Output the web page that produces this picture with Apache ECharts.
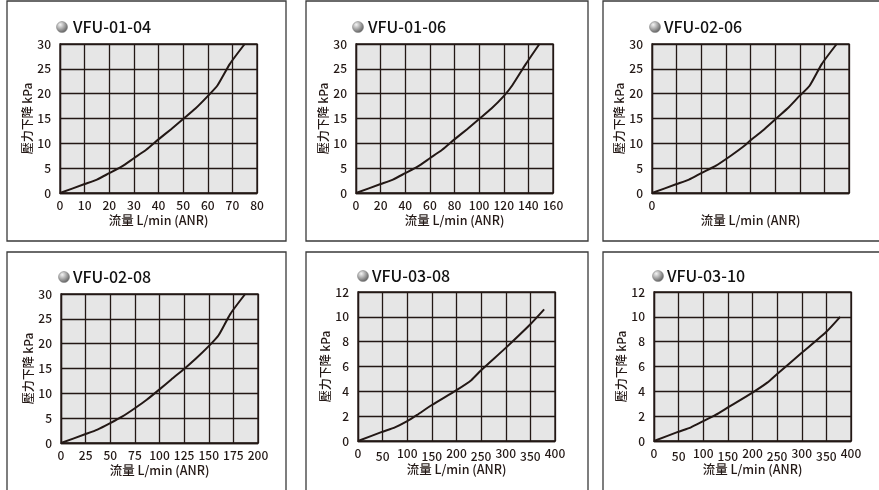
<!DOCTYPE html>
<html>
<head>
    <meta charset="utf-8">
    <script src="https://cdn.jsdelivr.net/npm/echarts@6/dist/echarts.min.js"></script>
    <style>
        body { margin: 0; background: #fff; }
    </style>
</head>
<body>
    <div id="main" style="width: 879px;height:490px;"></div>
    <script type="text/javascript">
        // 型號
        var models = ['VFU-01-04', 'VFU-01-06', 'VFU-02-06', 'VFU-02-08', 'VFU-03-08', 'VFU-03-10'];

        // 流量 L/min (ANR)
        var flow0104 = [0, 10, 15, 20, 25, 30, 35, 40, 45, 50, 55, 60, 64, 69, 75];
        var flow0106 = [0, 20, 30, 40, 50, 60, 70, 80, 90, 100, 110, 120, 127, 138, 149];
        var flow0206 = [0, 10, 15, 20, 26, 32, 37, 40, 45, 50, 55, 60, 64, 69, 75];
        var flow0208 = [0, 25, 37, 50, 62, 75, 87, 100, 112, 125, 137, 150, 160, 172, 187];
        var flow0308 = [0, 50, 75, 100, 120, 150, 200, 230, 250, 300, 350, 378];
        var flow0310 = [0, 50, 75, 100, 125, 150, 200, 230, 250, 300, 350, 378];

        // 壓力下降 kPa
        var drop0104 = [0, 1.8, 2.7, 4, 5.3, 7, 8.7, 10.8, 12.8, 14.9, 17, 19.5, 21.7, 26, 30];
        var drop0106 = [0, 1.8, 2.7, 4, 5.3, 7, 8.7, 10.8, 12.8, 14.9, 17, 19.5, 21.7, 26, 30];
        var drop0206 = [0, 1.8, 2.7, 4, 5.5, 7.5, 9.3, 10.6, 12.6, 14.8, 17, 19.6, 21.6, 26, 30];
        var drop0208 = [0, 1.8, 2.7, 4, 5.3, 7, 8.7, 10.8, 12.8, 14.9, 17, 19.5, 21.7, 26, 30];
        var drop0308 = [0, 0.75, 1.1, 1.6, 2.1, 2.9, 4.1, 4.9, 5.7, 7.5, 9.4, 10.6];
        var drop0310 = [0, 0.75, 1.1, 1.6, 2.1, 2.7, 3.9, 4.7, 5.4, 7.1, 8.8, 10];

        // 軸範圍
        var xMax = [80, 160, 80, 200, 400, 400];
        var xStep = [10, 20, 10, 25, 50, 50];
        var yMax = [30, 30, 30, 30, 12, 12];
        var yStep = [5, 5, 5, 5, 2, 2];

        var flows = [flow0104, flow0106, flow0206, flow0208, flow0308, flow0310];
        var drops = [drop0104, drop0106, drop0206, drop0208, drop0308, drop0310];

        // 版面
        var gridPos = [
            { left: 60, top: 44 }, { left: 356, top: 44 }, { left: 652, top: 44 },
            { left: 61, top: 294 }, { left: 358, top: 292 }, { left: 654, top: 292 }
        ];
        var framePos = [
            [7, 1, 279, 240], [306, 1, 282, 240], [603, 1, 290, 240],
            [7, 252, 279, 250], [306, 252, 282, 250], [603, 252, 290, 250]
        ];
        var titlePos = [
            [62, 73, 27], [358, 368, 27], [655, 664, 27],
            [64, 73, 277], [363, 372, 276], [658, 667, 276]
        ];

        var font = '"Noto Sans CJK TC", "Noto Sans", sans-serif';
        var ink = '#231815';

        var chart = echarts.init(document.getElementById('main'));

        var grids = [], xAxes = [], yAxes = [], series = [], graphics = [];

        for (var i = 0; i < 6; i++) {
            grids.push({
                left: gridPos[i].left, top: gridPos[i].top, width: 197, height: 149,
                show: true, backgroundColor: '#e6e6e6', borderColor: ink, borderWidth: 1.3
            });
            var hideX = (i === 2);
            var stagger = (i >= 4);
            xAxes.push({
                gridIndex: i, type: 'value', min: 0, max: xMax[i], interval: xStep[i],
                name: '流量 L/min (ANR)', nameLocation: 'middle', nameGap: 21,
                nameTextStyle: { fontFamily: font, fontSize: 12.5, fontWeight: 500, color: ink },
                axisLine: { lineStyle: { color: ink, width: 1.3 } },
                axisTick: { show: false },
                splitLine: { lineStyle: { color: ink, width: 1.3 } },
                axisLabel: {
                    margin: 6, fontFamily: font, fontSize: 12, fontWeight: 500, color: ink,
                    showMaxLabel: true,
                    formatter: (function (hx, st) {
                        return function (v) {
                            if (hx && v !== 0) return '';
                            if (st && v % 100 !== 0) return '{lo|' + v + '}';
                            return '{hi|' + v + '}';
                        };
                    })(hideX, stagger),
                    rich: {
                        hi: { fontFamily: font, fontSize: 12, fontWeight: 500, color: ink, padding: [0, 0, 3, 0] },
                        lo: { fontFamily: font, fontSize: 12, fontWeight: 500, color: ink, padding: [3, 0, 0, 0] }
                    }
                }
            });
            yAxes.push({
                gridIndex: i, type: 'value', min: 0, max: yMax[i], interval: yStep[i],
                name: '壓力下降 kPa', nameLocation: 'middle', nameGap: 24, nameRotate: 90,
                nameTextStyle: { fontFamily: font, fontSize: 12, fontWeight: 500, color: ink },
                axisLine: { show: true, lineStyle: { color: ink, width: 1.3 } },
                axisTick: { show: false },
                splitLine: { lineStyle: { color: ink, width: 1.3 } },
                axisLabel: { margin: 9, fontFamily: font, fontSize: 12, fontWeight: 500, color: ink }
            });
            var pts = [];
            for (var k = 0; k < flows[i].length; k++) {
                pts.push([flows[i][k], drops[i][k]]);
            }
            series.push({
                type: 'line', xAxisIndex: i, yAxisIndex: i, data: pts,
                showSymbol: false, smooth: 0.2,
                lineStyle: { color: ink, width: 2 }
            });

            var f = framePos[i];
            graphics.push({
                type: 'rect', shape: { x: f[0], y: f[1], width: f[2], height: f[3] },
                style: { fill: null, stroke: '#3a3a3a', lineWidth: 1.3 }, z: 0
            });
            var t = titlePos[i];
            graphics.push({
                type: 'circle', shape: { cx: t[0], cy: t[2], r: 5.5 },
                style: {
                    fill: new echarts.graphic.RadialGradient(0.35, 0.3, 0.75, [
                        { offset: 0, color: '#f4f4f4' },
                        { offset: 1, color: '#5a5a5a' }
                    ]),
                    stroke: '#7a7a7a', lineWidth: 0.5
                }
            });
            graphics.push({
                type: 'text', x: t[1], y: t[2],
                style: {
                    text: models[i], fontFamily: font, fontSize: 16, fontWeight: 500,
                    fill: '#111', verticalAlign: 'middle'
                }
            });
        }

        chart.setOption({
            animation: false,
            grid: grids,
            xAxis: xAxes,
            yAxis: yAxes,
            series: series,
            graphic: graphics
        });
    </script>
</body>
</html>
